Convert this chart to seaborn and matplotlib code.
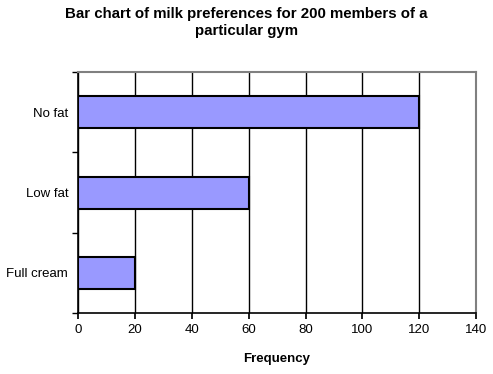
import pandas as pd
import matplotlib.pyplot as plt
import seaborn as sns

categories = ['No fat', 'Low fat', 'Full cream']
frequency = [120, 60, 20]
x_ticks = [0, 20, 40, 60, 80, 100, 120, 140]

data = pd.DataFrame({'milk': categories, 'freq': frequency})

sns.set_theme(style="white")
plt.rcParams['font.family'] = ['Liberation Sans', 'DejaVu Sans']
plt.rcParams['font.size'] = 9
plt.rcParams['text.color'] = 'black'
plt.rcParams['axes.labelcolor'] = 'black'
plt.rcParams['xtick.color'] = 'black'
plt.rcParams['ytick.color'] = 'black'

fig = plt.figure(figsize=(4.93, 3.74), dpi=100)
ax = fig.add_axes([0.158, 0.163, 0.808, 0.644])

sns.barplot(data=data, x='freq', y='milk', orient='h', color='#9999FF',
            saturation=1, width=0.4, edgecolor='black', linewidth=1.5, ax=ax)

ax.set_xlim(0, 140)
ax.set_ylim(2.5, -0.5)
ax.set_xticks(x_ticks)
ax.set_xticklabels([str(t) for t in x_ticks], fontsize=9.5)
ax.xaxis.grid(True, color='black', linewidth=1)
ax.set_axisbelow(True)

# ticks sit between categories, labels at centres
ax.set_yticks([-0.5, 0.5, 1.5, 2.5], minor=True)
ax.tick_params(axis='y', which='major', length=0, pad=7, labelsize=9.5)
ax.tick_params(axis='y', which='minor', length=4, direction='out', color='black', left=True)
ax.tick_params(axis='x', which='major', length=4, direction='out', color='black', bottom=True, pad=4)

for side in ['left', 'bottom']:
    ax.spines[side].set_color('black')
    ax.spines[side].set_linewidth(1.2)
for side in ['top', 'right']:
    ax.spines[side].set_color('#808080')
    ax.spines[side].set_linewidth(1.5)

ax.set_ylabel('')
ax.set_xlabel('Frequency', fontweight='bold', fontsize=9.5, labelpad=12)
fig.suptitle('Bar chart of milk preferences for 200 members of a\nparticular gym',
             fontweight='bold', fontsize=10.8, y=0.98)

plt.savefig('out.png', dpi=100)
